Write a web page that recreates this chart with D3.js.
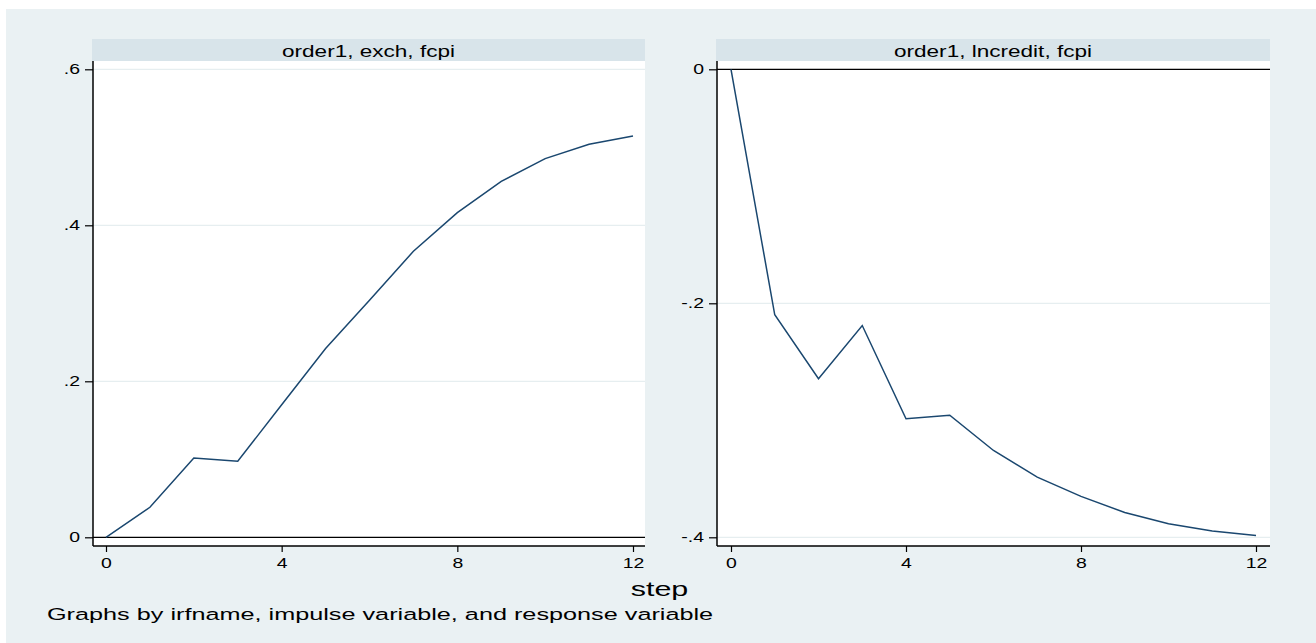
<!DOCTYPE html>
<html>
<head>
<meta charset="utf-8">
<script src="https://cdn.jsdelivr.net/npm/d3@7/dist/d3.min.js"></script>
<style>
  html, body { margin: 0; padding: 0; background: #ffffff; }
  svg { display: block; }
  text { font-family: "Liberation Sans", Arial, sans-serif; fill: #000; }
</style>
</head>
<body>
<svg id="chart" width="1316" height="643"></svg>
<script>
// ---- data ----
const steps = [0, 1, 2, 3, 4, 5, 6, 7, 8, 9, 10, 11, 12];
const exchFcpi = [0, 0.0385, 0.1017, 0.0974, 0.170, 0.242, 0.304, 0.3667, 0.4163, 0.4564, 0.4855, 0.5038, 0.5145];
const lncreditFcpi = [0, -0.2098, -0.2645, -0.219, -0.2987, -0.2956, -0.3258, -0.3486, -0.365, -0.3788, -0.3885, -0.3947, -0.3984];
const panelTitles = ["order1, exch, fcpi", "order1, lncredit, fcpi"];
const xTicks = [0, 4, 8, 12];
const leftYTicks = [0, 0.2, 0.4, 0.6];
const leftYLabels = ["0", ".2", ".4", ".6"];
const rightYTicks = [-0.4, -0.2, 0];
const rightYLabels = ["-.4", "-.2", "0"];
const xTitle = "step";
const note = "Graphs by irfname, impulse variable, and response variable";

// ---- layout ----
const svg = d3.select("#chart");
svg.append("rect").attr("x", 6).attr("y", 9).attr("width", 1310).attr("height", 634).attr("fill", "#eaf1f3");

const panels = [
  { title: panelTitles[0], values: exchFcpi, yTicks: leftYTicks, yLabels: leftYLabels, yDomain: [0, 0.6],
    x0: 93, x1: 645, stripX0: 92, pad: [13, 12] },
  { title: panelTitles[1], values: lncreditFcpi, yTicks: rightYTicks, yLabels: rightYLabels, yDomain: [-0.4, 0],
    x0: 717, x1: 1270, stripX0: 716, pad: [14, 14] }
];
const plotTop = 61, plotBottom = 546, stripTop = 39;
const TICK_SIZE = 14.5, TICK_SX = 1.34;

function stretchedText(g, x, y, str, size, sx, anchor) {
  return g.append("text")
    .attr("transform", `translate(${x},${y}) scale(${sx},1)`)
    .attr("text-anchor", anchor)
    .style("font-size", size + "px")
    .text(str);
}

panels.forEach(p => {
  const g = svg.append("g");
  // strip
  g.append("rect").attr("x", p.stripX0).attr("y", stripTop)
    .attr("width", p.x1 - p.stripX0).attr("height", plotTop - stripTop).attr("fill", "#d8e4ea");
  stretchedText(g, (p.stripX0 + p.x1) / 2, 57, p.title, 16, 1.41, "middle");
  // plot area
  g.append("rect").attr("x", p.x0).attr("y", plotTop)
    .attr("width", p.x1 - p.x0).attr("height", plotBottom - plotTop).attr("fill", "#ffffff");

  const x = d3.scaleLinear().domain([0, 12]).range([p.x0 + p.pad[0], p.x1 - p.pad[1]]);
  const y = d3.scaleLinear().domain(p.yDomain).range([537.3, 69.3]);

  // gridlines
  g.append("g").selectAll("line").data(p.yTicks.filter(t => t !== 0)).join("line")
    .attr("x1", p.x0).attr("x2", p.x1)
    .attr("y1", d => y(d)).attr("y2", d => y(d))
    .attr("stroke", "#e6eef0").attr("stroke-width", 1.2);
  // zero reference line
  g.append("line").attr("x1", p.x0).attr("x2", p.x1)
    .attr("y1", y(0)).attr("y2", y(0)).attr("stroke", "#000").attr("stroke-width", 1.3);

  // series line
  const line = d3.line().x((d, i) => x(steps[i])).y(d => y(d));
  g.append("path").datum(p.values).attr("d", line)
    .attr("fill", "none").attr("stroke", "#1a476f").attr("stroke-width", 1.5);

  // y axis
  const ya = g.append("g").attr("transform", `translate(${p.x0},0)`)
    .call(d3.axisLeft(y).tickValues(p.yTicks).tickSize(8).tickFormat((d, i) => p.yLabels[i]));
  ya.select(".domain").attr("d", `M0,${plotTop}V${plotBottom}`).attr("stroke", "#000").attr("stroke-width", 1.5);
  ya.selectAll(".tick line").attr("stroke", "#000").attr("stroke-width", 1.2);
  ya.selectAll(".tick text")
    .attr("x", -13 / TICK_SX).attr("transform", `scale(${TICK_SX},1)`)
    .style("font-size", TICK_SIZE + "px").style("font-family", '"Liberation Sans", Arial, sans-serif').attr("fill", "#000");

  // x axis
  const xa = g.append("g").attr("transform", `translate(0,${plotBottom})`)
    .call(d3.axisBottom(x).tickValues(xTicks).tickSize(6).tickFormat(d3.format("d")));
  xa.select(".domain").attr("d", `M${p.x0},0H${p.x1}`).attr("stroke", "#000").attr("stroke-width", 1.5);
  xa.selectAll(".tick line").attr("stroke", "#000").attr("stroke-width", 1.2);
  xa.selectAll(".tick text")
    .attr("y", 11.8).attr("dy", "0.71em").attr("transform", `scale(${TICK_SX},1)`)
    .style("font-size", TICK_SIZE + "px").style("font-family", '"Liberation Sans", Arial, sans-serif').attr("fill", "#000");
});

// titles
stretchedText(svg, 659.5, 596, xTitle, 21, 1.45, "middle");
stretchedText(svg, 47, 620, note, 16.5, 1.53, "start");
</script>
</body>
</html>
